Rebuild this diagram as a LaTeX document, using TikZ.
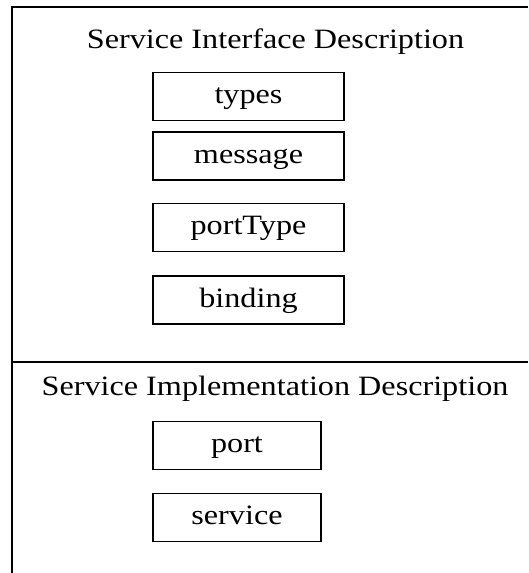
\documentclass[tikz,border=0pt]{standalone}
\usepackage{fontspec}
\setmainfont{Liberation Serif}[FakeStretch=1.15]
\begin{document}
\begin{tikzpicture}[x=1pt,y=-1pt,line width=1.4pt,
        part/.style={draw,line width=1.3pt,minimum width=191pt,minimum height=48pt,inner sep=0pt,
          text height=20pt,text depth=6pt,font=\fontsize{28}{32}\selectfont},
        small/.style={part,minimum width=168pt},
        heading/.style={anchor=base,font=\fontsize{28}{32}\selectfont}]
        \useasboundingbox (0,0) rectangle (528,573);
        \draw (528,7) -- (12,7) -- (12,573);
        \draw (12,362) -- (528,362);
        \node[heading] (iface) at (275.5,48.5) {Service Interface Description};
        \node[heading] (impl) at (275,395) {Service Implementation Description};
        \node[part] (types) at (248.5,96.5) {types};
        \node[part] (message) at (248.5,156) {message};
        \node[part] (porttype) at (248.5,227.5) {portType};
        \node[part] (binding) at (248.5,300) {binding};
        \node[small] (port) at (237,445.5) {port};
        \node[small] (service) at (237,517.5) {service};
        \end{tikzpicture}
\end{document}
